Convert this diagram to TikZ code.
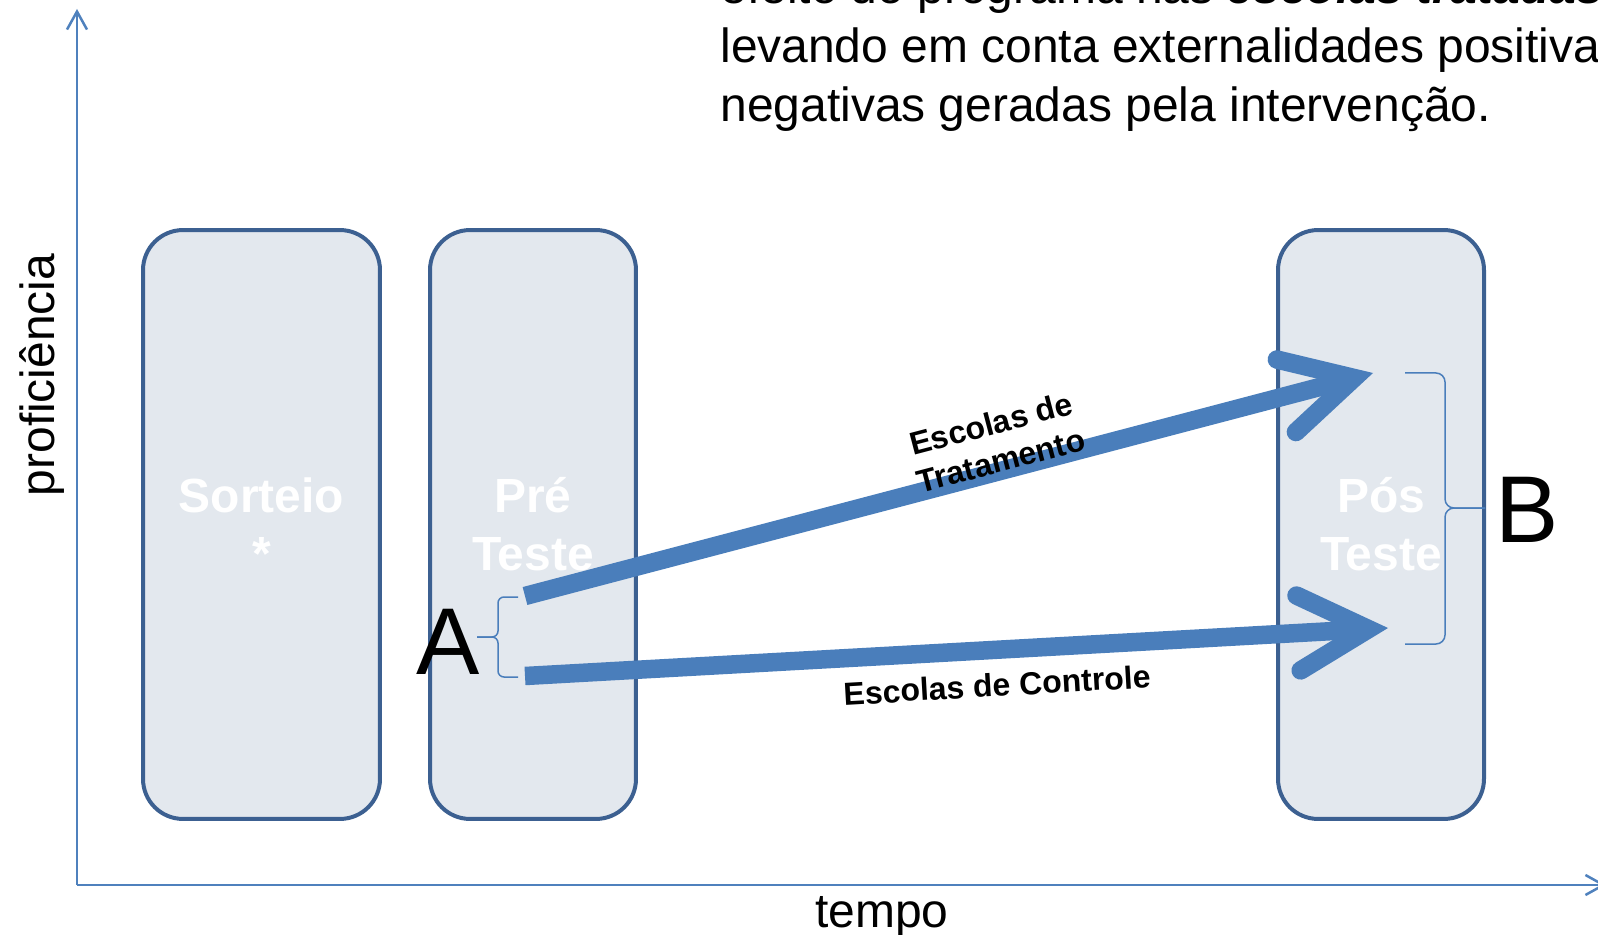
\documentclass[tikz,border=0pt]{standalone}
\usepackage{fontspec}
\setmainfont{Liberation Sans}
\usetikzlibrary{arrows.meta}

\definecolor{arrowblue}{RGB}{74,126,187}
\definecolor{axisblue}{RGB}{79,129,189}
\definecolor{boxline}{RGB}{60,96,145}
\definecolor{boxfill}{RGB}{227,232,238}

\begin{document}
\begin{tikzpicture}[x=0.02cm, y=-0.02cm,
	phase/.style={draw=boxline, line width=0.08cm, fill=boxfill, rounded corners=0.8cm, minimum height=11.78cm, text=white, font=\fontsize{27.3}{33}\selectfont\bfseries, align=center},
	fat/.style={draw=arrowblue, line width=0.37cm, -{Straight Barb[length=1.4cm, width=1.5cm, line cap=round, line join=miter]}},
	axis/.style={draw=axisblue, line width=0.05cm, -{Straight Barb[length=0.36cm, width=0.4cm]}},
	curly/.style={draw=arrowblue, line width=0.03cm, rounded corners=#1},
	lbl/.style={font=\fontsize{18.2}{21.6}\selectfont\bfseries, align=center},
	big/.style={font=\fontsize{27.3}{33}\selectfont}]
	\clip (0,0) rectangle (1598,935);

	% eixos
	\coordinate (O) at (77,885);
	\coordinate (Y1) at (77,9);
	\coordinate (X1) at (1606,885);
	\draw[axis] (O) -- (Y1);
	\draw[axis] (O) -- (X1);
	\node[big, rotate=90, anchor=base] (YL) at (54,375) {proficiência};
	\node[big, anchor=base] (XL) at (882,927) {tempo};

	% texto do topo
	\node[big, anchor=base west, inner sep=0pt] (top1) at (720,4) {efeito do programa nas \textbf{\textit{escolas tratadas}}};
	\node[big, anchor=base west, inner sep=0pt] (top2) at (720,63) {levando em conta externalidades positivas};
	\node[big, anchor=base west, inner sep=0pt] (top3) at (720,122) {negativas geradas pela intervenção.};

	\node[phase, minimum width=4.74cm] (R1) at (261.5,524.5) {Sorteio\\*};
	\node[phase, minimum width=4.12cm] (R2) at (533,524.5) {Pré\\Teste};
	\node[phase, minimum width=4.12cm] (R3) at (1381,524.5) {Pós\\Teste};

	% chaves
	\coordinate (A1) at (518,597);
	\coordinate (A2) at (518,677);
	\coordinate (At) at (477,637);
	\draw[curly=0.12cm] (A1) -- ++(-20,0) |- (At);
	\draw[curly=0.12cm] (A2) -- ++(-20,0) |- (At);
	\coordinate (B1) at (1405,373);
	\coordinate (B2) at (1405,644);
	\coordinate (Bt) at (1485,508);
	\draw[curly=0.18cm] (B1) -- ++(40,0) |- (Bt);
	\draw[curly=0.18cm] (B2) -- ++(40,0) |- (Bt);

	\coordinate (T1) at (525,596);
	\coordinate (H1) at (1373,373);
	\coordinate (T2) at (525,676);
	\coordinate (H2) at (1388,628);
	\draw[fat] (T1) -- (H1);
	\draw[fat] (T2) -- (H2);

	\node[lbl, rotate=14.7] (L1) at (996,442) {Escolas de\\Tratamento};
	\node[lbl, rotate=3.3] (L2) at (997,685) {Escolas de Controle};

	\node[font=\fontsize{54}{60}\selectfont] (LA) at (448,642) {A};
	\node[font=\fontsize{54}{60}\selectfont] (LB) at (1527,510) {B};
\end{tikzpicture}
\end{document}
